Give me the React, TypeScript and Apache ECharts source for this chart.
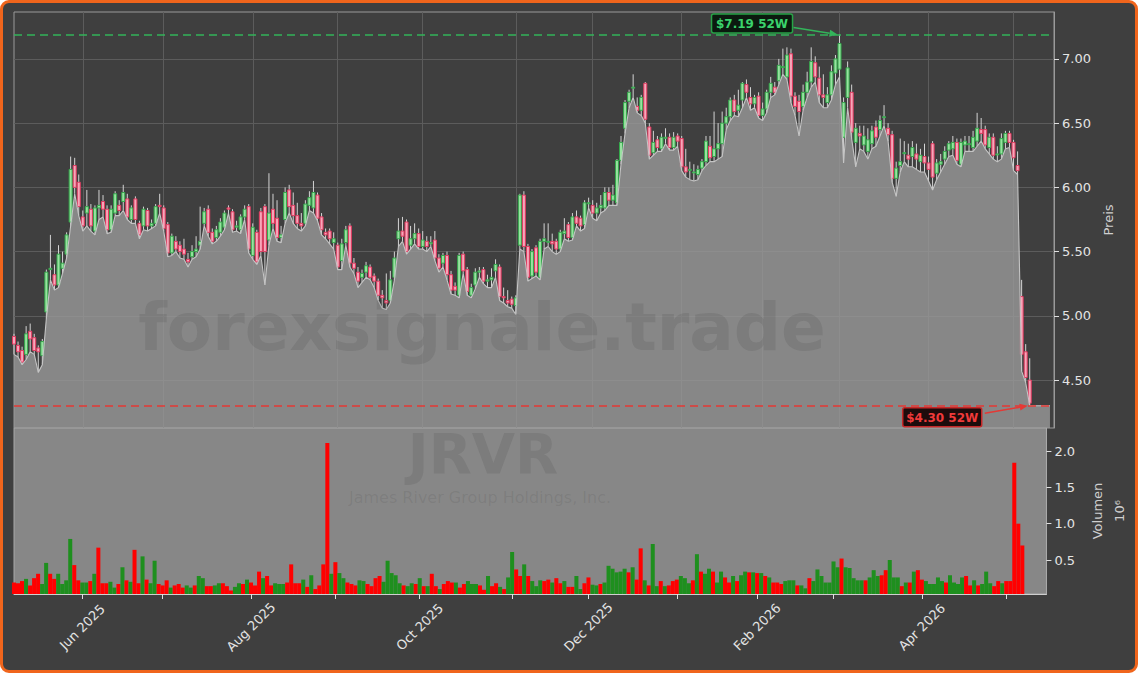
import React, { useEffect, useRef } from 'react';
import * as echarts from 'echarts';

// ---------- DATA (index 0 = 2025-05-07, trading days) ----------
const OPEN = [
  4.84,4.77,4.73,4.70,4.88,4.83,4.75,4.69,5.03,5.36,
  5.32,5.24,5.37,5.48,5.73,6.17,6.04,5.77,5.80,5.83,
  5.66,5.84,5.89,5.83,5.67,5.80,5.86,5.89,5.91,5.75,
  5.91,5.72,5.70,5.82,5.70,5.72,5.86,5.84,5.71,5.49,
  5.58,5.55,5.52,5.44,5.46,5.50,5.55,5.72,5.83,5.65,
  5.61,5.65,5.69,5.84,5.81,5.69,5.67,5.77,5.85,5.47,
  5.65,5.81,5.85,5.59,5.83,5.76,5.61,5.75,5.98,5.86,
  5.78,5.72,5.72,5.86,5.84,5.94,5.77,5.65,5.66,5.57,
  5.55,5.43,5.57,5.70,5.41,5.34,5.30,5.34,5.38,5.31,
  5.27,5.16,5.12,5.12,5.30,5.60,5.66,5.73,5.55,5.60,
  5.64,5.54,5.58,5.56,5.59,5.45,5.41,5.47,5.32,5.23,
  5.16,5.48,5.36,5.16,5.24,5.34,5.36,5.27,5.28,5.35,
  5.38,5.15,5.12,5.13,5.08,5.55,5.94,5.54,5.31,5.53,
  5.30,5.58,5.58,5.58,5.58,5.52,5.64,5.71,5.61,5.77,
  5.76,5.71,5.88,5.86,5.80,5.84,5.84,5.96,5.90,5.88,
  6.21,6.46,6.67,6.78,6.63,6.60,6.81,6.47,6.27,6.37,
  6.30,6.39,6.39,6.31,6.40,6.38,6.16,6.14,6.12,6.10,
  6.15,6.20,6.32,6.24,6.30,6.34,6.50,6.55,6.68,6.60,
  6.68,6.80,6.70,6.65,6.71,6.56,6.61,6.74,6.78,6.83,
  6.94,6.86,7.04,6.71,6.67,6.63,6.74,6.82,6.97,6.85,
  6.72,6.66,6.72,6.89,6.92,6.39,6.70,6.74,6.35,6.42,
  6.33,6.28,6.34,6.47,6.45,6.55,6.46,6.41,6.07,6.17,
  6.27,6.25,6.24,6.26,6.20,6.24,6.19,6.34,6.11,6.18,
  6.22,6.29,6.30,6.35,6.18,6.33,6.34,6.31,6.36,6.45,
  6.45,6.31,6.39,6.26,6.26,6.35,6.42,6.35,6.17,5.15,
  4.72,4.50
];
const CLOSE = [
  4.78,4.72,4.64,4.86,4.82,4.73,4.72,4.80,5.34,5.37,
  5.24,5.48,5.41,5.63,6.14,6.00,5.85,5.70,5.85,5.70,
  5.84,5.86,5.83,5.67,5.83,5.95,5.82,5.96,5.77,5.84,
  5.75,5.63,5.83,5.70,5.72,5.85,5.85,5.68,5.49,5.62,
  5.52,5.50,5.48,5.42,5.50,5.52,5.58,5.81,5.65,5.58,
  5.67,5.73,5.80,5.83,5.67,5.70,5.77,5.83,5.52,5.69,
  5.42,5.50,5.50,5.80,5.72,5.61,5.63,5.96,5.85,5.78,
  5.72,5.70,5.87,5.92,5.96,5.76,5.67,5.63,5.60,5.60,
  5.38,5.56,5.67,5.41,5.37,5.27,5.33,5.39,5.30,5.27,
  5.16,5.14,5.10,5.28,5.45,5.66,5.62,5.50,5.60,5.64,
  5.54,5.59,5.54,5.57,5.45,5.37,5.47,5.32,5.20,5.20,
  5.47,5.35,5.19,5.22,5.34,5.35,5.27,5.28,5.30,5.40,
  5.15,5.14,5.10,5.09,5.14,5.94,5.54,5.30,5.50,5.34,
  5.58,5.60,5.58,5.56,5.52,5.65,5.66,5.61,5.77,5.72,
  5.70,5.88,5.88,5.80,5.84,5.86,5.96,5.90,5.94,6.21,
  6.35,6.66,6.74,6.78,6.60,6.70,6.53,6.25,6.35,6.31,
  6.39,6.39,6.31,6.39,6.36,6.16,6.12,6.14,6.12,6.14,
  6.20,6.36,6.23,6.30,6.34,6.50,6.55,6.68,6.59,6.64,
  6.81,6.74,6.65,6.70,6.56,6.61,6.74,6.81,6.74,6.95,
  6.94,7.03,6.71,6.63,6.59,6.74,6.82,6.98,6.86,6.72,
  6.70,6.72,6.90,7.00,7.12,6.66,6.93,6.43,6.46,6.40,
  6.40,6.37,6.44,6.39,6.52,6.55,6.41,6.07,6.15,6.20,
  6.27,6.22,6.31,6.22,6.25,6.19,6.14,6.08,6.19,6.20,
  6.28,6.34,6.35,6.21,6.35,6.36,6.34,6.39,6.46,6.42,
  6.33,6.39,6.25,6.26,6.38,6.42,6.35,6.23,6.13,4.70,
  4.52,4.32
];
const LOW = [
  4.70,4.68,4.62,4.66,4.72,4.70,4.56,4.62,4.98,5.28,
  5.20,5.22,5.33,5.45,5.70,5.95,5.78,5.66,5.70,5.66,
  5.63,5.75,5.77,5.64,5.65,5.78,5.78,5.82,5.75,5.72,
  5.72,5.60,5.67,5.66,5.68,5.70,5.80,5.66,5.46,5.47,
  5.50,5.45,5.44,5.38,5.44,5.46,5.52,5.70,5.62,5.56,
  5.58,5.62,5.67,5.80,5.65,5.66,5.64,5.75,5.49,5.44,
  5.40,5.47,5.24,5.55,5.68,5.58,5.57,5.72,5.80,5.72,
  5.68,5.66,5.70,5.82,5.80,5.74,5.63,5.60,5.56,5.52,
  5.36,5.36,5.55,5.38,5.33,5.22,5.26,5.30,5.28,5.22,
  5.12,5.06,5.05,5.10,5.28,5.54,5.58,5.48,5.52,5.56,
  5.52,5.52,5.50,5.54,5.43,5.34,5.38,5.28,5.17,5.16,
  5.14,5.33,5.16,5.14,5.21,5.30,5.25,5.22,5.22,5.30,
  5.12,5.10,5.07,5.06,5.01,5.52,5.50,5.27,5.29,5.31,
  5.28,5.52,5.54,5.50,5.48,5.50,5.60,5.58,5.59,5.70,
  5.66,5.68,5.84,5.76,5.74,5.80,5.82,5.86,5.86,5.86,
  6.18,6.42,6.62,6.70,6.58,6.56,6.50,6.22,6.25,6.28,
  6.28,6.34,6.29,6.29,6.32,6.13,6.08,6.06,6.05,6.06,
  6.13,6.17,6.20,6.20,6.22,6.24,6.45,6.52,6.56,6.55,
  6.62,6.70,6.60,6.62,6.54,6.52,6.58,6.70,6.72,6.80,
  6.88,6.84,6.66,6.56,6.40,6.60,6.70,6.78,6.82,6.66,
  6.62,6.62,6.68,6.80,6.86,6.19,6.62,6.38,6.16,6.30,
  6.28,6.22,6.30,6.32,6.40,6.48,6.36,6.04,5.93,6.12,
  6.20,6.16,6.16,6.14,6.12,6.12,6.05,5.98,6.06,6.12,
  6.18,6.24,6.25,6.18,6.16,6.28,6.28,6.28,6.32,6.36,
  6.30,6.26,6.22,6.20,6.22,6.30,6.31,6.13,6.10,4.57,
  4.48,4.30
];
const HIGH = [
  4.86,4.80,4.76,4.92,4.94,4.86,4.77,4.82,5.36,5.63,
  5.40,5.55,5.50,5.65,6.24,6.23,6.10,5.82,5.98,5.87,
  5.86,5.98,5.94,5.86,5.86,5.97,5.90,6.02,5.95,5.86,
  5.93,5.74,5.85,5.84,5.75,5.87,5.95,5.86,5.73,5.64,
  5.62,5.58,5.60,5.49,5.55,5.62,5.85,5.84,5.86,5.68,
  5.70,5.76,5.82,5.86,5.83,5.74,5.79,5.86,5.87,5.72,
  5.67,5.84,5.87,6.11,5.95,5.90,5.70,6.00,6.02,5.96,
  5.88,5.80,5.90,5.97,6.05,5.96,5.80,5.68,5.68,5.65,
  5.57,5.60,5.70,5.72,5.45,5.38,5.36,5.42,5.40,5.33,
  5.29,5.20,5.33,5.35,5.50,5.76,5.77,5.75,5.70,5.72,
  5.68,5.66,5.62,5.62,5.66,5.48,5.49,5.50,5.35,5.26,
  5.49,5.50,5.38,5.25,5.37,5.38,5.38,5.32,5.37,5.44,
  5.40,5.22,5.20,5.15,5.16,5.95,5.97,5.56,5.52,5.55,
  5.60,5.72,5.72,5.64,5.60,5.67,5.76,5.73,5.80,5.82,
  5.78,5.90,5.92,5.90,5.88,5.94,6.00,6.00,6.02,6.22,
  6.40,6.68,6.76,6.88,6.70,6.72,6.82,6.50,6.44,6.40,
  6.42,6.46,6.42,6.43,6.42,6.40,6.30,6.20,6.18,6.17,
  6.22,6.40,6.40,6.59,6.50,6.59,6.62,6.70,6.72,6.76,
  6.82,6.84,6.78,6.72,6.74,6.66,6.76,6.86,6.82,7.00,
  7.08,7.09,7.08,6.74,6.72,6.80,6.90,7.09,7.02,6.94,
  6.88,6.78,6.95,7.03,7.19,6.70,6.98,6.80,6.50,6.48,
  6.48,6.46,6.48,6.52,6.56,6.64,6.50,6.44,6.20,6.38,
  6.36,6.34,6.36,6.34,6.30,6.34,6.24,6.36,6.22,6.26,
  6.32,6.36,6.40,6.38,6.38,6.40,6.40,6.44,6.58,6.54,
  6.48,6.42,6.42,6.32,6.42,6.44,6.44,6.37,6.28,5.28,
  4.78,4.67
];
// area trace continues flat at the last low for a few empty slots
const LOW_TAIL = [4.30, 4.30, 4.30, 4.30, 4.30];

// volume in millions of shares
const VOLUME = [
  0.19,0.18,0.21,0.24,0.15,0.25,0.31,0.17,0.46,0.31,
  0.24,0.31,0.17,0.22,0.79,0.43,0.22,0.19,0.19,0.21,
  0.31,0.67,0.18,0.18,0.20,0.12,0.17,0.40,0.22,0.20,
  0.64,0.18,0.55,0.23,0.18,0.49,0.17,0.15,0.22,0.12,
  0.15,0.17,0.12,0.15,0.12,0.15,0.28,0.25,0.14,0.14,
  0.15,0.18,0.18,0.14,0.08,0.13,0.18,0.17,0.23,0.19,
  0.15,0.34,0.25,0.28,0.15,0.18,0.17,0.17,0.19,0.44,
  0.18,0.18,0.23,0.13,0.29,0.10,0.15,0.44,2.11,0.31,
  0.47,0.32,0.25,0.19,0.17,0.15,0.22,0.21,0.17,0.14,
  0.25,
  0.28,0.20,0.49,0.32,0.29,0.18,0.15,0.14,0.18,0.17,
  0.25,0.14,0.14,0.31,0.14,0.10,0.17,0.21,0.19,0.19,
  0.12,0.17,0.21,0.17,0.17,0.15,0.09,
  0.28,0.14,0.18,0.13,0.10,0.26,0.61,0.37,0.28,0.44,0.28,0.21,
  0.14,0.22,0.21,0.23,0.19,0.25,0.18,0.21,0.13,0.13,
  0.28,0.10,0.18,0.26,0.16,0.15,0.17,0.19,0.42,0.38,
  0.33,0.34,0.38,0.33,0.40,0.23,0.66,0.22,0.15,0.72,
  0.14,0.21,0.14,0.15,0.21,0.23,0.28,0.25,0.18,0.22,
  0.58,0.34,0.31,0.38,0.34,0.19,0.34,0.26,0.19,0.28,0.21,0.29,0.34,0.33,
  0.33,0.32,0.32,0.28,0.26,0.19,0.19,0.17,0.21,0.22,
  0.22,0.15,0.15,0.11,0.25,0.21,0.37,0.28,0.19,0.19,
  0.48,0.40,0.52,0.40,0.39,0.25,0.22,0.22,0.22,0.26,
  0.36,0.28,0.29,0.36,0.50,0.26,0.26,0.14,0.19,0.19,
  0.34,0.36,0.23,0.21,0.17,0.17,0.26,0.21,0.19,0.29,
  0.19,0.17,0.26,0.28,0.15,0.22,0.15,0.17,0.34,0.18,
  0.14,0.21,0.18,0.21,0.21,1.84,1.00,0.70
];
// 1 = up day (green volume bar), 0 = down day (red)
const VOL_UP = [
  0,0,0,1,0,0,0,1,1,0,
  0,1,1,1,1,0,0,1,1,0,
  1,0,0,0,1,1,0,1,0,1,
  0,0,1,0,1,1,0,0,0,1,
  0,0,0,1,1,0,1,1,0,0,
  1,1,0,0,0,1,1,0,1,0,
  0,0,1,0,0,1,1,1,0,0,
  0,0,1,0,1,0,0,0,0,1,
  0,1,1,0,0,0,1,1,0,0,
  0,
  0,1,1,1,1,1,0,1,1,0,
  1,0,1,0,0,1,0,0,0,1,
  0,0,1,1,1,0,0,
  1,0,0,1,0,1,1,0,0,1,0,1,
  1,1,0,0,1,0,0,1,0,0,
  1,1,0,0,1,1,0,1,1,1,
  1,1,1,0,1,0,0,1,0,1,
  1,0,1,0,0,0,1,1,1,0,
  1,0,1,1,0,1,1,0,0,1,0,1,1,0,
  1,0,1,0,1,0,0,0,1,1,
  1,0,1,1,0,1,1,1,1,1,
  1,1,0,1,1,1,1,1,0,1,
  1,1,0,0,1,1,1,0,1,0,
  1,0,0,1,1,1,1,1,0,1,
  1,1,1,0,0,1,0,1,1,1,
  0,0,1,0,0,0,0,0
];

const SLOT_COUNT = 258; // trading-day slots on the x axis (incl. empty right margin)
const MONTH_TICKS = [17, 37, 59, 80, 101, 124, 143, 165, 185, 204, 226, 247];
const MONTH_LABELS = ['Jun 2025', '', 'Aug 2025', '', 'Oct 2025', '', 'Dec 2025', '', 'Feb 2026', '', 'Apr 2026', ''];
const PRICE_TICKS = [4.5, 5.0, 5.5, 6.0, 6.5, 7.0];
const VOL_TICKS = [0.5, 1.0, 1.5, 2.0];
const PRICE_MIN = 4.127, PRICE_MAX = 7.365;
const VOL_MIN = 0.032, VOL_MAX = 2.317;
const HIGH_52W = 7.19, HIGH_IDX = 204;
const LOW_52W = 4.30, LOW_IDX = 251;
const TICKER = 'JRVR';
const COMPANY = 'James River Group Holdings, Inc.';
const WATERMARK = 'forexsignale.trade';

// ---------- STYLE ----------
const FONT = 'DejaVu Sans';
const BG = '#3f3f3f';
const PANEL_GRAY = '#878787';
const GRID_LINE = '#5c5c5c';
const TEXT = '#e4e4e4';
const UP_FILL = '#98e2a0', UP_EDGE = '#35a94c';
const DN_FILL = '#f6a7ba', DN_EDGE = '#e23a60';
const WICK = '#d4d4d4';
const VOL_GREEN = '#1e8f1e', VOL_RED = '#ff0000';
const HI_COLOR = '#33b45a', LO_COLOR = '#e53935';
const WM_COLOR = 'rgba(40,40,40,0.11)';

const PRICE_GRID = { left: 14, top: 12, width: 1040, height: 416 };
const VOL_GRID = { left: 14, top: 428, width: 1040, height: 166 };

function arrow(x1: number, y1: number, x2: number, y2: number, color: string) {
  const ang = Math.atan2(y2 - y1, x2 - x1);
  const L = 8, W = 3.5;
  const bx = x2 - L * Math.cos(ang), by = y2 - L * Math.sin(ang);
  const nx = -Math.sin(ang), ny = Math.cos(ang);
  return [
    { type: 'line', z: 20, shape: { x1, y1, x2: bx, y2: by }, style: { stroke: color, lineWidth: 1.6 } },
    { type: 'polygon', z: 20, shape: { points: [[x2, y2], [bx + nx * W, by + ny * W], [bx - nx * W, by - ny * W]] }, style: { fill: color } },
  ];
}

export default function App() {
  const ref = useRef<HTMLDivElement>(null);

  useEffect(() => {
    const chart = echarts.init(ref.current!, null, { renderer: 'svg' });
    const cats = Array.from({ length: SLOT_COUNT }, (_, i) => String(i));
    const tickSet = new Set(MONTH_TICKS);
    const labelMap = new Map<number, string>();
    MONTH_TICKS.forEach((t, k) => { if (MONTH_LABELS[k]) labelMap.set(t, MONTH_LABELS[k]); });

    const candleData = OPEN.map((o, i) => [i, o, CLOSE[i], LOW[i], HIGH[i]]);
    const areaData = [...LOW, ...LOW_TAIL];
    const volData = VOLUME.map((v, i) => ({ value: v, itemStyle: { color: VOL_UP[i] ? VOL_GREEN : VOL_RED } }));

    const option: any = {
      animation: false,
      backgroundColor: 'transparent',
      textStyle: { fontFamily: FONT },
      grid: [
        { ...PRICE_GRID, show: true, backgroundColor: 'transparent', borderColor: '#9a9a9a', borderWidth: 1 },
        { ...VOL_GRID, show: true, backgroundColor: PANEL_GRAY, borderColor: '#a9a9a9', borderWidth: 1 },
      ],
      xAxis: [
        {
          type: 'category', gridIndex: 0, data: cats, boundaryGap: false,
          axisLine: { show: false }, axisTick: { show: false }, axisLabel: { show: false },
          splitLine: { show: true, interval: (idx: number) => tickSet.has(idx), lineStyle: { color: GRID_LINE, width: 1 } },
        },
        {
          type: 'category', gridIndex: 1, data: cats, boundaryGap: false,
          axisLine: { show: true, lineStyle: { color: '#cfcfcf', width: 1 } },
          axisTick: { show: true, interval: (idx: number) => tickSet.has(idx), length: 5, lineStyle: { color: '#e0e0e0' } },
          axisLabel: {
            show: true, interval: (idx: number) => labelMap.has(idx),
            formatter: (_v: string, idx: number) => labelMap.get(idx) || '',
            rotate: 45, align: 'center', verticalAlign: 'middle', margin: 33,
            color: TEXT, fontSize: 13, fontFamily: FONT,
          },
          splitLine: { show: false },
        },
      ],
      yAxis: [
        {
          type: 'value', gridIndex: 0, position: 'right', min: PRICE_MIN, max: PRICE_MAX,
          axisLine: { show: true, lineStyle: { color: '#9a9a9a' } },
          axisTick: { show: true, customValues: PRICE_TICKS, length: 5, lineStyle: { color: '#e0e0e0' } },
          axisLabel: { show: true, customValues: PRICE_TICKS, formatter: (v: number) => v.toFixed(2), color: TEXT, fontSize: 13, margin: 8, fontFamily: FONT },
          splitLine: { show: false },
          name: 'Preis', nameLocation: 'middle', nameRotate: 90, nameGap: 45,
          nameTextStyle: { color: '#cfcfcf', fontSize: 13, fontFamily: FONT },
        },
        {
          type: 'value', gridIndex: 1, position: 'right', min: VOL_MIN, max: VOL_MAX,
          axisLine: { show: true, lineStyle: { color: '#a9a9a9' } },
          axisTick: { show: true, customValues: VOL_TICKS, length: 5, lineStyle: { color: '#e0e0e0' } },
          axisLabel: { show: true, customValues: VOL_TICKS, formatter: (v: number) => v.toFixed(1), color: TEXT, fontSize: 13, margin: 8, fontFamily: FONT },
          splitLine: { show: false },
          name: 'Volumen\n10\u2076', nameLocation: 'middle', nameRotate: 90, nameGap: 35,
          nameTextStyle: { color: '#cfcfcf', fontSize: 13, lineHeight: 22, fontFamily: FONT },
        },
      ],
      series: [
        {
          name: 'candles', type: 'custom', xAxisIndex: 0, yAxisIndex: 0, z: 2,
          data: candleData,
          encode: { x: 0, y: [1, 2, 3, 4] },
          renderItem: (_p: any, api: any) => {
            const i = api.value(0), o = api.value(1), c = api.value(2), l = api.value(3), h = api.value(4);
            const pO = api.coord([i, o]), pC = api.coord([i, c]), pL = api.coord([i, l]), pH = api.coord([i, h]);
            const up = c >= o;
            const x = pO[0];
            const bw = 3;
            const top = Math.min(pO[1], pC[1]);
            const bh = Math.max(Math.abs(pO[1] - pC[1]), 1);
            return {
              type: 'group',
              children: [
                { type: 'line', shape: { x1: x, y1: pH[1], x2: x, y2: pL[1] }, style: { stroke: WICK, lineWidth: 1 } },
                { type: 'rect', shape: { x: x - bw / 2, y: top, width: bw, height: bh }, style: { fill: up ? UP_FILL : DN_FILL, stroke: up ? UP_EDGE : DN_EDGE, lineWidth: 1 } },
              ],
            };
          },
          markLine: {
            silent: true, symbol: 'none', z: 1, animation: false,
            label: { show: false },
            lineStyle: { color: GRID_LINE, type: 'solid', width: 1 },
            data: PRICE_TICKS.map((v) => ({ yAxis: v })),
          },
        },
        {
          name: 'low', type: 'line', xAxisIndex: 0, yAxisIndex: 0, z: 3,
          data: areaData, symbol: 'none', smooth: false,
          lineStyle: { color: '#c4c4c4', width: 1.1 },
          areaStyle: { color: '#9a9a9a', opacity: 0.8, origin: 'start' },
          markLine: {
            silent: true, symbol: 'none', z: 6, animation: false,
            label: { show: false },
            data: [
              { yAxis: HIGH_52W, lineStyle: { color: HI_COLOR, type: [8, 5], width: 1.6 } },
              { yAxis: LOW_52W, lineStyle: { color: LO_COLOR, type: [8, 5], width: 1.6 } },
            ],
          },
        },
        {
          name: 'volume', type: 'bar', xAxisIndex: 1, yAxisIndex: 1, z: 2,
          data: volData, barWidth: '100%', barCategoryGap: '0%',
        },
      ],
    };
    chart.setOption(option);

    const pHi = chart.convertToPixel({ xAxisIndex: 0, yAxisIndex: 0 } as any, [HIGH_IDX, HIGH_52W]) as number[];
    const pLo = chart.convertToPixel({ xAxisIndex: 0, yAxisIndex: 0 } as any, [LOW_IDX, LOW_52W]) as number[];

    const hiR = pHi[0] - 47, hiCy = pHi[1] - 11;
    const loR = pLo[0] - 48, loCy = pLo[1] + 11.5;

    const graphic: any[] = [
      { type: 'text', z: 15, silent: true, x: 482, y: 327, style: { text: WATERMARK, font: `bold 66px "${FONT}"`, fill: WM_COLOR, align: 'center', verticalAlign: 'middle' } },
      { type: 'text', z: 15, silent: true, x: 483, y: 453, style: { text: TICKER, font: `bold 56px "${FONT}"`, fill: WM_COLOR, align: 'center', verticalAlign: 'middle' } },
      { type: 'text', z: 15, silent: true, x: 480, y: 497, style: { text: COMPANY, font: `16px "${FONT}"`, fill: WM_COLOR, align: 'center', verticalAlign: 'middle' } },
      // 52W high label
      { type: 'rect', z: 20, shape: { x: hiR - 81, y: hiCy - 9.5, width: 81, height: 19, r: 2 }, style: { fill: '#0b1a0f', stroke: '#27a347', lineWidth: 1.5 } },
      { type: 'text', z: 21, x: hiR - 40.5, y: hiCy + 0.5, style: { text: `$${HIGH_52W.toFixed(2)} 52W`, font: `bold 12px "${FONT}"`, fill: '#3ad36c', align: 'center', verticalAlign: 'middle' } },
      ...arrow(hiR + 1, hiCy + 4, pHi[0] - 2, pHi[1], HI_COLOR),
      // 52W low label
      { type: 'rect', z: 20, shape: { x: loR - 79, y: loCy - 9.5, width: 79, height: 19, r: 2 }, style: { fill: '#1d0c0c', stroke: '#c62828', lineWidth: 1.5 } },
      { type: 'text', z: 21, x: loR - 39.5, y: loCy + 0.5, style: { text: `$${LOW_52W.toFixed(2)} 52W`, font: `bold 12px "${FONT}"`, fill: '#f03a3a', align: 'center', verticalAlign: 'middle' } },
      ...arrow(loR + 3, loCy - 4, pLo[0] - 2, pLo[1], LO_COLOR),
    ];
    chart.setOption({ graphic });

    return () => chart.dispose();
  }, []);

  return (
    <div style={{ position: 'fixed', left: 0, top: 0, width: 1138, height: 673, boxSizing: 'border-box', border: '3px solid #f0651c', borderRadius: 9, background: BG }}>
      <div ref={ref} style={{ position: 'absolute', left: -3, top: -3, width: 1138, height: 673 }} />
    </div>
  );
}
